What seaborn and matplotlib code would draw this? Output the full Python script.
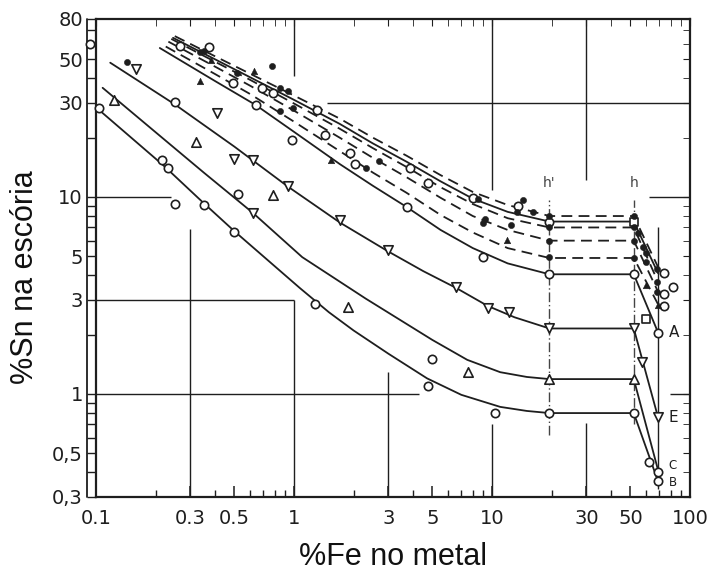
import matplotlib
matplotlib.use("Agg")
import seaborn as sns
from matplotlib import pyplot as plt

# curves: x = %Fe no metal, y = %Sn na escoria
# solid curves (lowest first)
s5_x = [0.1, 0.22, 0.35, 0.5, 1.07, 1.5, 2.0, 3.0, 4.7, 7.0, 11, 15, 19.5, 52, 69]
s5_y = [28.5, 14.4, 9.3, 6.7, 3.45, 2.6, 2.1, 1.6, 1.2, 0.99, 0.86, 0.82, 0.80, 0.80, 0.36]
s4_x = [0.108, 0.2, 0.35, 0.62, 1.1, 2.3, 5.0, 7.5, 11, 15, 19.5, 52, 69]
s4_y = [35.8, 21.3, 13.3, 8.3, 4.95, 3.05, 1.88, 1.49, 1.29, 1.22, 1.19, 1.19, 0.41]
s3_x = [0.118, 0.25, 0.5, 0.93, 1.71, 2.98, 4.5, 6.6, 9.5, 13, 19.5, 52, 69]
s3_y = [48.0, 29.5, 18.0, 11.3, 7.4, 5.3, 4.2, 3.45, 2.8, 2.45, 2.15, 2.15, 0.76]
s2_x = [0.21, 0.4, 0.64, 1.0, 1.7, 2.5, 3.7, 5.5, 8, 12, 19.5, 52, 69]
s2_y = [57, 38.7, 29.3, 21.4, 14.7, 11.4, 8.9, 6.8, 5.5, 4.6, 4.05, 4.05, 2.05]
s1_x = [0.245, 0.4, 0.6, 1.0, 1.7, 2.5, 3.7, 5.5, 8, 12, 19.5, 52, 69]
s1_y = [64.2, 49.9, 40.5, 31.1, 23.5, 18.7, 15.1, 12.0, 9.8, 8.4, 7.5, 7.5, 4.1]

# dashed curves (top first)
d1_x = [0.25, 0.4, 0.6, 1.0, 1.7, 2.5, 3.7, 5.5, 8, 12, 19.5, 52, 69]
d1_y = [65.5, 51.7, 42.2, 32.7, 25.0, 20.0, 16.2, 12.9, 10.6, 9.1, 8.0, 8.0, 4.4]
d2_x = [0.24, 0.4, 0.6, 1.0, 1.7, 2.5, 3.7, 5.5, 8, 12, 19.5, 52, 69]
d2_y = [63.4, 48.5, 39.3, 29.8, 22.2, 17.7, 14.2, 11.2, 9.2, 7.8, 7.0, 7.0, 3.7]
d3_x = [0.232, 0.4, 0.6, 1.0, 1.7, 2.5, 3.7, 5.5, 8, 12, 19.5, 52, 69]
d3_y = [61.4, 45.8, 36.7, 27.4, 20.0, 15.8, 12.6, 9.9, 8.0, 6.8, 6.0, 6.0, 3.3]
d4_x = [0.225, 0.4, 0.6, 1.0, 1.7, 2.5, 3.7, 5.5, 8, 12, 19.5, 52, 69]
d4_y = [58.0, 42.0, 33.3, 24.1, 17.1, 13.3, 10.5, 8.1, 6.6, 5.5, 4.9, 4.9, 2.85]

# measured points
circ_x = [0.093, 0.103, 0.216, 0.231, 0.25, 0.35, 0.5, 0.52, 1.28, 4.97, 4.75, 10.3, 19.5, 52, 62, 69, 69,
          0.25, 0.64, 3.72, 9.0, 19.5, 52, 69,
          0.266, 0.37, 0.49, 0.69, 0.78, 0.98, 1.31, 1.43, 1.92, 2.03, 3.85, 4.75, 8.0, 13.5, 19.5,
          74, 82, 74, 74]
circ_y = [60, 28.3, 15.4, 14.0, 9.2, 9.1, 6.6, 10.3, 2.86, 1.50, 1.10, 0.80, 0.80, 0.80, 0.45, 0.40, 0.36,
          30.4, 29.3, 8.9, 4.96, 4.05, 4.05, 2.05,
          58.4, 57.8, 37.8, 35.8, 33.7, 19.5, 27.6, 20.7, 16.7, 14.7, 14.0, 11.8, 9.9, 9.0, 7.5,
          4.1, 3.5, 3.2, 2.8]
sq_x = [52, 60]
sq_y = [7.5, 2.4]
tri_dn_x = [0.16, 0.41, 0.5, 0.62, 0.62, 0.93, 1.71, 2.98, 6.6, 9.5, 12.2, 19.5, 52, 57, 69]
tri_dn_y = [44.6, 26.7, 15.6, 15.4, 8.3, 11.3, 7.6, 5.38, 3.49, 2.73, 2.6, 2.15, 2.15, 1.45, 0.76]
tri_up_x = [0.123, 0.32, 0.78, 1.87, 7.55, 19.5, 52]
tri_up_y = [31, 19.0, 10.2, 2.76, 1.29, 1.19, 1.19]
dot_x = [0.143, 0.335, 0.35, 0.77, 0.515, 0.85, 0.93, 0.85, 0.99, 2.69, 2.31, 8.5, 14.3, 13.3, 16.1,
         9.2, 9.0, 12.5, 19.5, 19.5, 19.5, 19.5, 52, 52, 52, 52, 54.6, 57.7, 60, 60, 68, 68, 68]
dot_y = [48.5, 54.5, 55, 46.3, 42.6, 35.8, 34.5, 27.3, 28.3, 15.2, 14.0, 9.8, 9.7, 8.4, 8.4,
         7.7, 7.4, 7.2, 8.0, 7.0, 6.0, 4.95, 8.0, 7.0, 6.0, 4.9, 6.55, 5.6, 5.2, 4.7, 4.3, 3.7, 3.3]
btri_x = [0.38, 0.335, 0.63, 1.54, 11.9, 60, 69]
btri_y = [49.3, 38.9, 43.4, 15.4, 6.06, 3.57, 2.83]

x_ticks = [0.1, 0.3, 0.5, 1, 3, 5, 10, 30, 50, 100]
x_labels = ['0.1', '0.3', '0.5', '1', '3', '5', '10', '30', '50', '100']
x_minor = [0.2, 0.4, 0.6, 0.7, 0.8, 0.9, 2, 4, 6, 7, 8, 9, 20, 40, 60, 70, 80, 90]
y_ticks = [0.3, 0.5, 1, 3, 5, 10, 30, 50, 80]
y_labels = ['0,3', '0,5', '1', '3', '5', '10', '30', '50', '80']
y_minor = [0.4, 0.6, 0.7, 0.8, 0.9, 2, 4, 6, 7, 8, 9, 20, 40, 60, 70]

end_labels = ['A', 'E', 'C', 'B']
end_label_y = [2.05, 0.76, 0.435, 0.355]
end_label_size = [11, 11, 8.5, 8.5]

sns.set_style("white")
plt.rcParams['font.family'] = ['Liberation Sans Narrow', 'DejaVu Sans']
ink = '#1e1e1e'

fig = plt.figure(figsize=(7.09, 5.74), dpi=100)
ax = fig.add_axes([96 / 709, 77 / 574, 594 / 709, 478 / 574])
ax.set_xscale('log')
ax.set_yscale('log')

# leftover grid fragments of the original figure
ax.hlines([10, 3, 1], 0.1, [0.24, 1.0, 4.3], color=ink, lw=1.0)
ax.hlines([30, 10, 1], [1.47, 62, 79], 100, color=ink, lw=1.0)
ax.vlines([0.3, 1, 3, 10, 30], 0.3, [6.9, 3.0, 1.3, 0.7, 0.71], color=ink, lw=1.0)
ax.vlines([1, 10, 30], [41, 10.8, 12.2], 80, color=ink, lw=1.0)
ax.vlines(69, 0.33, 7.0, color=ink, lw=1.0)
ax.vlines([19.5, 52], [0.62, 0.7], 9.6, color='#444444', lw=1.0, linestyles=(0, (7, 2, 1, 2)))

for cx, cy in [(s5_x, s5_y), (s4_x, s4_y), (s3_x, s3_y), (s2_x, s2_y), (s1_x, s1_y)]:
    sns.lineplot(x=cx, y=cy, ax=ax, color=ink, lw=1.3, estimator=None, sort=False, errorbar=None)
for cx, cy in [(d1_x, d1_y), (d2_x, d2_y), (d3_x, d3_y), (d4_x, d4_y)]:
    sns.lineplot(x=cx, y=cy, ax=ax, color=ink, lw=1.3, linestyle=(0, (6, 3.5)),
                 estimator=None, sort=False, errorbar=None)

open_kw = dict(ax=ax, color='white', edgecolor=ink, linewidth=1.2, zorder=4, clip_on=False, legend=False)
sns.scatterplot(x=circ_x, y=circ_y, marker='o', s=36, **open_kw)
sns.scatterplot(x=sq_x, y=sq_y, marker='s', s=32, **open_kw)
sns.scatterplot(x=tri_dn_x, y=tri_dn_y, marker='v', s=46, **open_kw)
sns.scatterplot(x=tri_up_x, y=tri_up_y, marker='^', s=46, **open_kw)
sns.scatterplot(x=dot_x, y=dot_y, marker='o', s=20, color=ink, edgecolor=ink, zorder=5, ax=ax, legend=False)
sns.scatterplot(x=btri_x, y=btri_y, marker='^', s=22, color=ink, edgecolor=ink, zorder=5, ax=ax, legend=False)

for lab, ly, fs in zip(end_labels, end_label_y, end_label_size):
    ax.text(78, ly, lab, fontsize=fs, va='center', ha='left', color=ink)
ax.text(19.5, 10.9, "h'", fontsize=10, ha='center', va='bottom', color='#444444')
ax.text(52, 10.9, "h", fontsize=10, ha='center', va='bottom', color='#444444')

ax.set_xlim(0.1, 100)
ax.set_ylim(0.3, 80)
ax.set_xticks(x_ticks)
ax.set_xticklabels(x_labels)
ax.set_xticks(x_minor, minor=True)
ax.set_xticklabels([], minor=True)
ax.set_yticks(y_ticks)
ax.set_yticklabels(y_labels)
ax.set_yticks(y_minor, minor=True)
ax.set_yticklabels([], minor=True)
ax.tick_params(axis='x', which='both', direction='in', bottom=True, top=False, color=ink,
               labelsize=14, pad=9, labelcolor=ink)
ax.tick_params(axis='x', which='major', length=8, width=1.1)
ax.tick_params(axis='x', which='minor', length=5, width=1.0)
ax.tick_params(axis='y', which='both', direction='out', left=True, right=False, length=6.5,
               width=1.0, color=ink, labelsize=14, pad=3, labelcolor=ink)

# inward ticks on the top and right frame
top = ax.secondary_xaxis('top')
top.set_xticks(x_ticks)
top.set_xticks(x_minor, minor=True)
top.tick_params(which='both', direction='in', length=5, labeltop=False, color=ink)
right = ax.secondary_yaxis('right')
right.set_yticks(y_ticks)
right.set_yticks(y_minor, minor=True)
right.tick_params(which='both', direction='in', length=5, labelright=False, color=ink)
for a in (top, right):
    for sp in a.spines.values():
        sp.set_visible(False)

for sp in ax.spines.values():
    sp.set_color(ink)
    sp.set_linewidth(1.6)
# double line of the left scale
ax.plot([-0.0155, -0.0155], [0, 1], transform=ax.transAxes, color=ink, lw=1.3, clip_on=False)

fig.text(393 / 709, 1 - 557 / 574, '%Fe no metal', fontsize=22, family='Liberation Sans',
         ha='center', va='center', color='#111111')
fig.text(25 / 709, 1 - 277 / 574, '%Sn na escória', fontsize=22, family='Liberation Sans',
         rotation=90, ha='center', va='center', color='#111111')

fig.savefig('out.png', dpi=100)
